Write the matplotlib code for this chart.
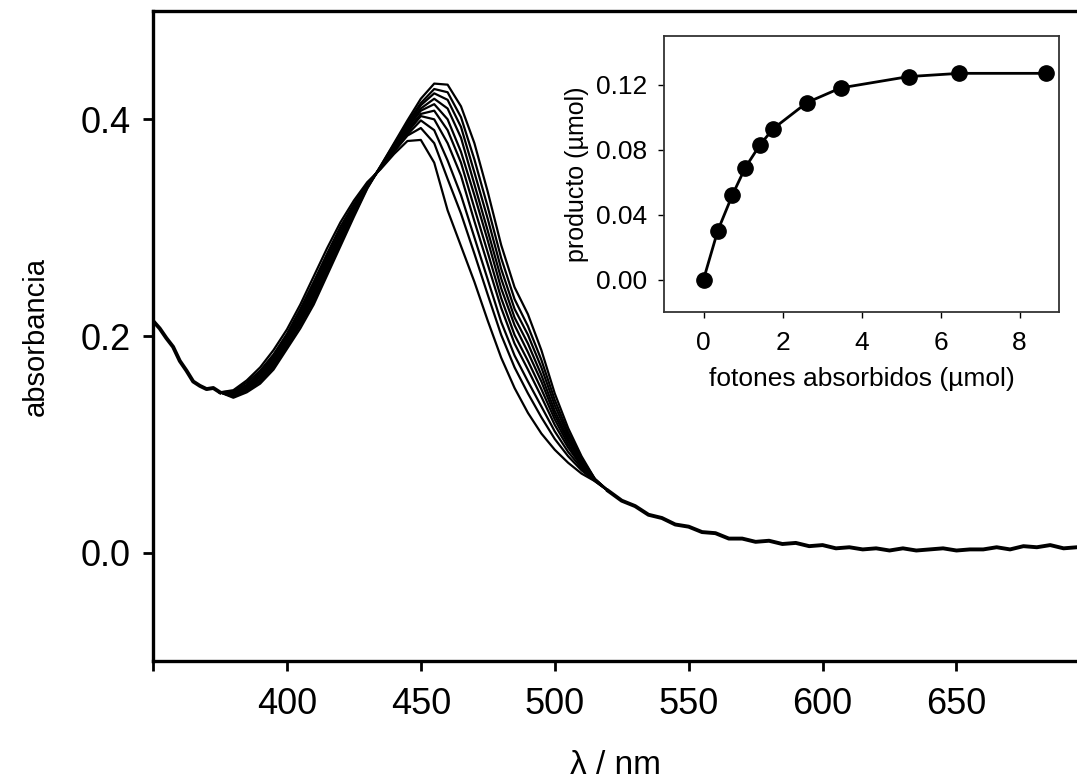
import numpy as np
import matplotlib
matplotlib.use("Agg")
import matplotlib.pyplot as plt

plt.rcParams['font.family'] = ['Liberation Sans', 'DejaVu Sans']

# shared short-wavelength part of every spectrum
wl_left = [350, 352.5, 355, 357.5, 360, 362.5, 365, 367.5, 370, 372.5, 375]
abs_left = [0.214, 0.207, 0.198, 0.190, 0.177, 0.168, 0.158, 0.154, 0.151, 0.152, 0.148]

# part where the spectra differ (one list per irradiation time)
wl_mid = [380, 385, 390, 395, 400, 405, 410, 415, 420, 425, 430, 435, 440, 445,
          450, 455, 460, 465, 470, 475, 480, 485, 490, 495, 500, 505, 510, 515]
spec_0 = [.143, .148, .156, .169, .188, .207, .229, .256, .283, .310, .336, .357, .378, .399,
          .419, .433, .432, .412, .378, .333, .284, .245, .220, .187, .147, .115, .089, .068]
spec_1 = [.144, .149, .158, .171, .190, .210, .232, .259, .286, .312, .337, .357, .377, .397,
          .415, .428, .425, .402, .363, .319, .272, .234, .209, .178, .141, .111, .087, .068]
spec_2 = [.144, .150, .159, .173, .192, .212, .234, .261, .288, .313, .337, .356, .376, .395,
          .413, .424, .418, .393, .351, .308, .262, .225, .201, .171, .136, .108, .086, .068]
spec_3 = [.145, .151, .160, .174, .193, .214, .237, .264, .290, .314, .338, .356, .375, .394,
          .410, .419, .410, .383, .340, .297, .253, .217, .193, .164, .131, .105, .084, .067]
spec_4 = [.146, .152, .162, .176, .195, .215, .239, .266, .291, .316, .338, .356, .374, .392,
          .408, .414, .400, .370, .330, .288, .244, .210, .185, .158, .127, .103, .083, .067]
spec_5 = [.146, .153, .163, .177, .196, .217, .241, .268, .293, .317, .339, .356, .373, .390,
          .405, .408, .390, .360, .318, .277, .235, .201, .177, .151, .123, .100, .081, .067]
spec_6 = [.147, .154, .164, .179, .198, .219, .244, .270, .295, .318, .339, .355, .372, .388,
          .403, .400, .378, .348, .306, .266, .226, .193, .169, .144, .118, .097, .080, .067]
spec_7 = [.148, .155, .166, .181, .200, .222, .247, .273, .298, .320, .340, .355, .371, .386,
          .399, .390, .362, .330, .291, .252, .213, .182, .158, .135, .112, .093, .078, .067]
spec_8 = [.149, .157, .168, .183, .202, .225, .250, .276, .301, .322, .341, .355, .370, .385,
          .392, .378, .345, .313, .276, .238, .201, .171, .147, .125, .105, .089, .076, .066]
spec_9 = [.150, .159, .171, .187, .206, .229, .255, .281, .305, .325, .342, .354, .368, .380,
          .381, .360, .316, .283, .250, .214, .180, .152, .129, .110, .095, .083, .073, .066]
spectra = [spec_0, spec_1, spec_2, spec_3, spec_4, spec_5, spec_6, spec_7, spec_8, spec_9]

# shared long-wavelength tail
wl_right = [520, 525, 530, 535, 540, 545, 550, 555, 560, 565, 570, 575, 580, 585, 590,
            595, 600, 605, 610, 615, 620, 625, 630, 635, 640, 645, 650, 655, 660, 665,
            670, 675, 680, 685, 690, 695]
abs_right = [0.057, 0.048, 0.043, 0.035, 0.032, 0.026, 0.024, 0.019, 0.018, 0.013, 0.013,
             0.010, 0.011, 0.008, 0.009, 0.006, 0.007, 0.004, 0.005, 0.003, 0.004, 0.002,
             0.004, 0.002, 0.003, 0.004, 0.002, 0.003, 0.003, 0.005, 0.003, 0.006, 0.005,
             0.007, 0.004, 0.005]

# inset: product vs absorbed photons
photons = [0, 0.36, 0.73, 1.06, 1.43, 1.77, 2.62, 3.47, 5.19, 6.48, 8.68]
product = [0, 0.030, 0.052, 0.069, 0.083, 0.093, 0.109, 0.118, 0.125, 0.127, 0.127]

fig = plt.figure(figsize=(10.77, 7.84), dpi=100)

ax = fig.add_axes([153 / 1077, 1 - 661 / 784, 1 - 153 / 1077, 650 / 784])
for spec in spectra:
    x = [wl_left[-1]] + wl_mid + [wl_right[0]]
    y = [abs_left[-1]] + spec + [abs_right[0]]
    ax.plot(x, y, color='black', lw=1.6)
# overlapping noisy parts look thicker in the original
ax.plot(wl_left, abs_left, color='black', lw=2.8)
ax.plot(wl_right, abs_right, color='black', lw=2.8)

ax.set_xlim(350, 695)
ax.set_ylim(-0.1, 0.5)
ax.set_xticks([350, 400, 450, 500, 550, 600, 650])
ax.set_xticklabels(['', '400', '450', '500', '550', '600', '650'])
ax.set_yticks([0.0, 0.2, 0.4])
ax.set_yticklabels(['0.0', '0.2', '0.4'])
ax.tick_params(direction='out', length=7, width=2, labelsize=26, pad=9)
ax.tick_params(axis='x', pad=12)
for s in ['left', 'bottom', 'top']:
    ax.spines[s].set_linewidth(2.4)
ax.spines['right'].set_visible(False)
ax.set_xlabel('λ / nm', fontsize=24, labelpad=20)
ax.set_ylabel('absorbancia', fontsize=21, labelpad=22)

ins = fig.add_axes([664 / 1077, 1 - 312 / 784, 395 / 1077, 276 / 784])
ins.plot(photons, product, color='black', lw=2, marker='o', ms=11)
ins.set_xlim(-1, 9)
ins.set_ylim(-0.02, 0.15)
ins.set_xticks([0, 2, 4, 6, 8])
ins.set_yticks([0.0, 0.04, 0.08, 0.12])
ins.set_yticklabels(['0.00', '0.04', '0.08', '0.12'])
ins.tick_params(direction='out', length=4, width=1, labelsize=19, pad=8)
ins.tick_params(axis='x', pad=10)
for s in ins.spines.values():
    s.set_linewidth(1.3)
    s.set_color('#333333')
ins.set_xlabel('fotones absorbidos (µmol)', fontsize=19, labelpad=8)
ins.set_ylabel('producto (µmol)', fontsize=18, labelpad=5)

fig.savefig('out.png', dpi=100)
